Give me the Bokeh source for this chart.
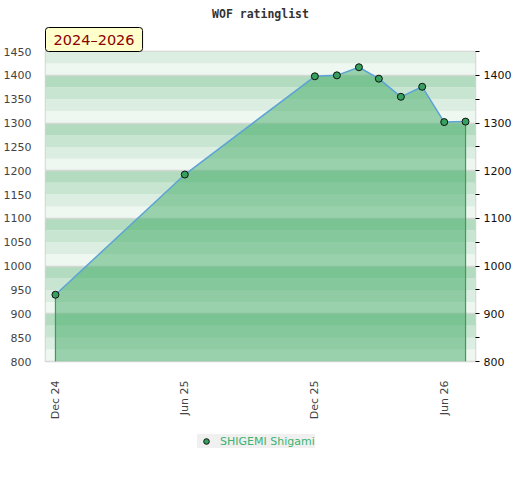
import datetime as dt
from bokeh.plotting import figure
from bokeh.layouts import column
from bokeh.models import (LinearAxis, FixedTicker, Title, Legend, LegendItem,
                          Range1d, DatetimeTickFormatter)
from bokeh.embed import file_html
from bokeh.resources import INLINE

# ---- data ----
dates = [dt.datetime(2024, 12, 1), dt.datetime(2025, 6, 1), dt.datetime(2025, 12, 1),
         dt.datetime(2026, 1, 1), dt.datetime(2026, 2, 1), dt.datetime(2026, 3, 1),
         dt.datetime(2026, 4, 1), dt.datetime(2026, 5, 1), dt.datetime(2026, 6, 1),
         dt.datetime(2026, 7, 1)]
ratings = [940, 1192, 1398, 1400, 1417, 1393, 1355, 1376, 1302, 1303]
player = "SHIGEMI Shigami"
period = "2024\u20132026"
title = "WOF ratinglist"
x_tick_dates = [dt.datetime(2024, 12, 1), dt.datetime(2025, 6, 1),
                dt.datetime(2025, 12, 1), dt.datetime(2026, 6, 1)]
x_tick_labels = ["Dec 24", "Jun 25", "Dec 25", "Jun 26"]
y_min, y_max = 800, 1450
left_ticks = list(range(800, 1451, 50))
right_ticks = list(range(800, 1401, 100))
right_minor = list(range(850, 1451, 100))
stripe_step = 25
stripe_colors = ["#eff7f1", "#dcede2", "#c8e5d1", "#b2dbbf"]

x_start = dt.datetime(2024, 11, 17)
x_end = dt.datetime(2026, 7, 15)

def ms(d):
    return (d - dt.datetime(1970, 1, 1)).total_seconds() * 1000.0

p = figure(frame_width=430, frame_height=310, output_backend="svg", toolbar_location=None,
           x_axis_type="datetime", x_range=Range1d(x_start, x_end),
           y_range=Range1d(y_min, y_max),
           min_border_left=37, min_border_right=37, min_border_top=42,
           min_border_bottom=55, background_fill_color="white",
           border_fill_color="white")

# period box (closest to frame)
pt = Title(text=period, align="left", text_font="DejaVu Sans", text_font_size="14.5px",
           text_color="#8b0000", text_font_style="normal",
           background_fill_color="#ffffcc", border_line_color="black",
           border_line_width=1, padding=(8, 4), border_radius=3, standoff=0, offset=0)
p.add_layout(pt, "above")

# main title
mt = Title(text=title, align="center", text_font="DejaVu Sans Mono",
           text_font_size="11.5px", text_color="#333333", text_font_style="bold",
           standoff=9)
p.add_layout(mt, "above")

# background stripes
bottoms = list(range(y_min, y_max, stripe_step))
colors = [stripe_colors[((b - y_min) // stripe_step) % 4] for b in bottoms]
p.quad(left=x_start, right=x_end, bottom=bottoms, top=[b + stripe_step for b in bottoms],
       fill_color=colors, line_color=None)

# grid lines (drawn as glyphs so the area covers them)
p.xgrid.grid_line_color = None
p.ygrid.grid_line_color = None
p.hspan(y=right_ticks, line_color="#d2d8d4", line_width=1.5)

# area
p.varea(x=dates, y1=[y_min] * len(dates), y2=ratings, fill_color="#42ab66", fill_alpha=0.5)
p.segment(x0=[dates[0], dates[-1]], y0=[y_min, y_min], x1=[dates[0], dates[-1]],
          y1=[ratings[0], ratings[-1]], line_color="#3a9d5a", line_width=1.2)
p.line(dates, ratings, line_color="#5ca3d6", line_width=1.5)
marker_style = dict(fill_color="#36a15e", line_color="#111111", line_width=1)
sc = p.scatter(dates, ratings, size=7, **marker_style)

p.outline_line_color = "#d4d4d4"
p.outline_line_width = 1.5

# x axis
xa = p.xaxis[0]
xa.ticker = FixedTicker(ticks=[ms(d) for d in x_tick_dates])
xa.major_label_overrides = {ms(d): l for d, l in zip(x_tick_dates, x_tick_labels)}
xa.formatter = DatetimeTickFormatter(months="%b %y")
xa.major_label_orientation = 3.14159265 / 2
xa.major_tick_line_color = None
xa.minor_tick_line_color = None
xa.axis_line_color = None
xa.major_label_text_font = "DejaVu Sans"
xa.major_label_text_font_size = "11px"
xa.major_label_text_color = "#444444"
xa.major_label_standoff = 13

# left axis
ya = p.yaxis[0]
ya.ticker = FixedTicker(ticks=left_ticks)
ya.major_tick_line_color = None
ya.minor_tick_line_color = None
ya.axis_line_color = None
ya.major_label_text_font = "DejaVu Sans"
ya.major_label_text_font_size = "11px"
ya.major_label_text_color = "#444444"
ya.major_label_standoff = 8

# right axis
ra = LinearAxis(ticker=FixedTicker(ticks=right_ticks, minor_ticks=right_minor))
ra.axis_line_color = None
ra.major_tick_in = 0
ra.major_tick_out = 4
ra.minor_tick_in = 0
ra.minor_tick_out = 4
ra.major_tick_line_color = "black"
ra.minor_tick_line_color = "black"
ra.major_label_text_font = "DejaVu Sans"
ra.major_label_text_font_size = "11px"
ra.major_label_text_color = "#111111"
ra.major_label_standoff = 4
p.add_layout(ra, "right")

# legend holder below the chart (its one marker lies outside the visible range)
p2 = figure(width=504, height=50, output_backend="svg", toolbar_location=None,
            x_range=Range1d(0, 1), y_range=Range1d(0, 1),
            x_axis_location=None, y_axis_location=None,
            min_border=0, outline_line_color=None,
            background_fill_color="white", border_fill_color="white")
p2.xgrid.grid_line_color = None
p2.ygrid.grid_line_color = None
sc2 = p2.scatter(x=[5], y=[5], size=6, **marker_style)
legend = Legend(items=[LegendItem(label=player, renderers=[sc2])],
                location=(152, 24), orientation="horizontal",
                background_fill_color="#f0f0f0", background_fill_alpha=1,
                border_line_color=None, label_text_color="#3cb371",
                label_text_font="DejaVu Sans", label_text_font_size="11px",
                margin=0, padding=4, glyph_width=18, label_height=14, glyph_height=14)
p2.add_layout(legend)

layout = column(p, p2, spacing=0)
open("out.html", "w").write(file_html(layout, INLINE))
